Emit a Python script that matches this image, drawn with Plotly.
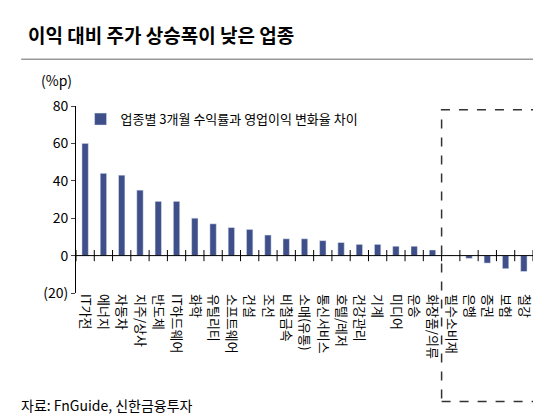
import plotly.graph_objects as go

sectors = ['IT가전', '에너지', '자동차', '지주/상사', '반도체', 'IT하드웨어', '화학', '유틸리티',
           '소프트웨어', '건설', '조선', '비철금속', '소매(유통)', '통신서비스', '호텔/레저',
           '건강관리', '기계', '미디어', '운송', '화장품/의류', '필수소비재', '은행', '증권', '보험', '철강']
diff = [60, 44, 43, 35, 29, 29, 20, 17, 15, 14, 11, 9, 9, 8, 7, 6, 6, 5, 5, 3, 0.3, -1.5, -4, -7, -8.5]

font = 'Noto Sans CJK KR'
fig = go.Figure()
fig.add_trace(go.Bar(x=list(range(len(sectors))), y=diff, width=0.35, marker_color='#3f4f8a',
                     name='업종별 3개월 수익률과 영업이익 변화율 차이'))

fig.update_layout(
    width=541, height=414, margin=dict(l=68, r=16, t=98, b=129),
    paper_bgcolor='white', plot_bgcolor='white',
    font=dict(family=font, size=13, color='black'),
    showlegend=True,
    legend=dict(x=0.01, y=1.01, xanchor='left', yanchor='top', bgcolor='rgba(0,0,0,0)',
                font=dict(size=13), itemwidth=30),
    xaxis=dict(tickmode='array', tickvals=list(range(len(sectors))), ticktext=sectors,
               tickangle=90, range=[-0.5, len(sectors) - 0.5], showgrid=False,
               showline=False, zeroline=False, ticks='', anchor='y', position=0,
               tickfont=dict(size=13)),
    yaxis=dict(range=[-20, 80], tickvals=[-20, 0, 20, 40, 60, 80],
               ticktext=['(20)', '0', '20', '40', '60', '80'], showgrid=False,
               showline=True, linecolor='black', ticks='outside', ticklen=4,
               zeroline=False, tickfont=dict(size=14)),
    shapes=[
        dict(type='line', xref='x', yref='y', x0=-0.5, x1=len(sectors) - 0.5, y0=0, y1=0,
             line=dict(color='black', width=1)),
        dict(type='rect', xref='x', yref='paper', x0=19.5, x1=24.55, y0=-0.58, y1=0.98,
             line=dict(color='#333', width=1.5, dash='dash')),
        dict(type='line', xref='paper', yref='paper', x0=-0.12, x1=1.02, y0=1.25, y1=1.25,
             line=dict(color='#999', width=1.5)),
    ],
    annotations=[
        dict(text='<b>이익 대비 주가 상승폭이 낮은 업종</b>', xref='paper', yref='paper', x=-0.11, y=1.38,
             xanchor='left', yanchor='middle', showarrow=False, font=dict(size=19)),
        dict(text='(%p)', xref='paper', yref='paper', x=-0.08, y=1.14, xanchor='left',
             yanchor='middle', showarrow=False, font=dict(size=14)),
        dict(text='자료: FnGuide, 신한금융투자', xref='paper', yref='paper', x=-0.125, y=-0.6,
             xanchor='left', yanchor='middle', showarrow=False, font=dict(size=14)),
    ],
)
# zero-line ticks along the category axis
fig.add_trace(go.Scatter(x=[i + 0.5 for i in range(-1, len(sectors))], y=[0] * (len(sectors) + 1),
                         mode='markers', marker=dict(symbol='line-ns', size=8, line=dict(width=1, color='black')),
                         showlegend=False, hoverinfo='skip'))
fig.write_html('out.html')
